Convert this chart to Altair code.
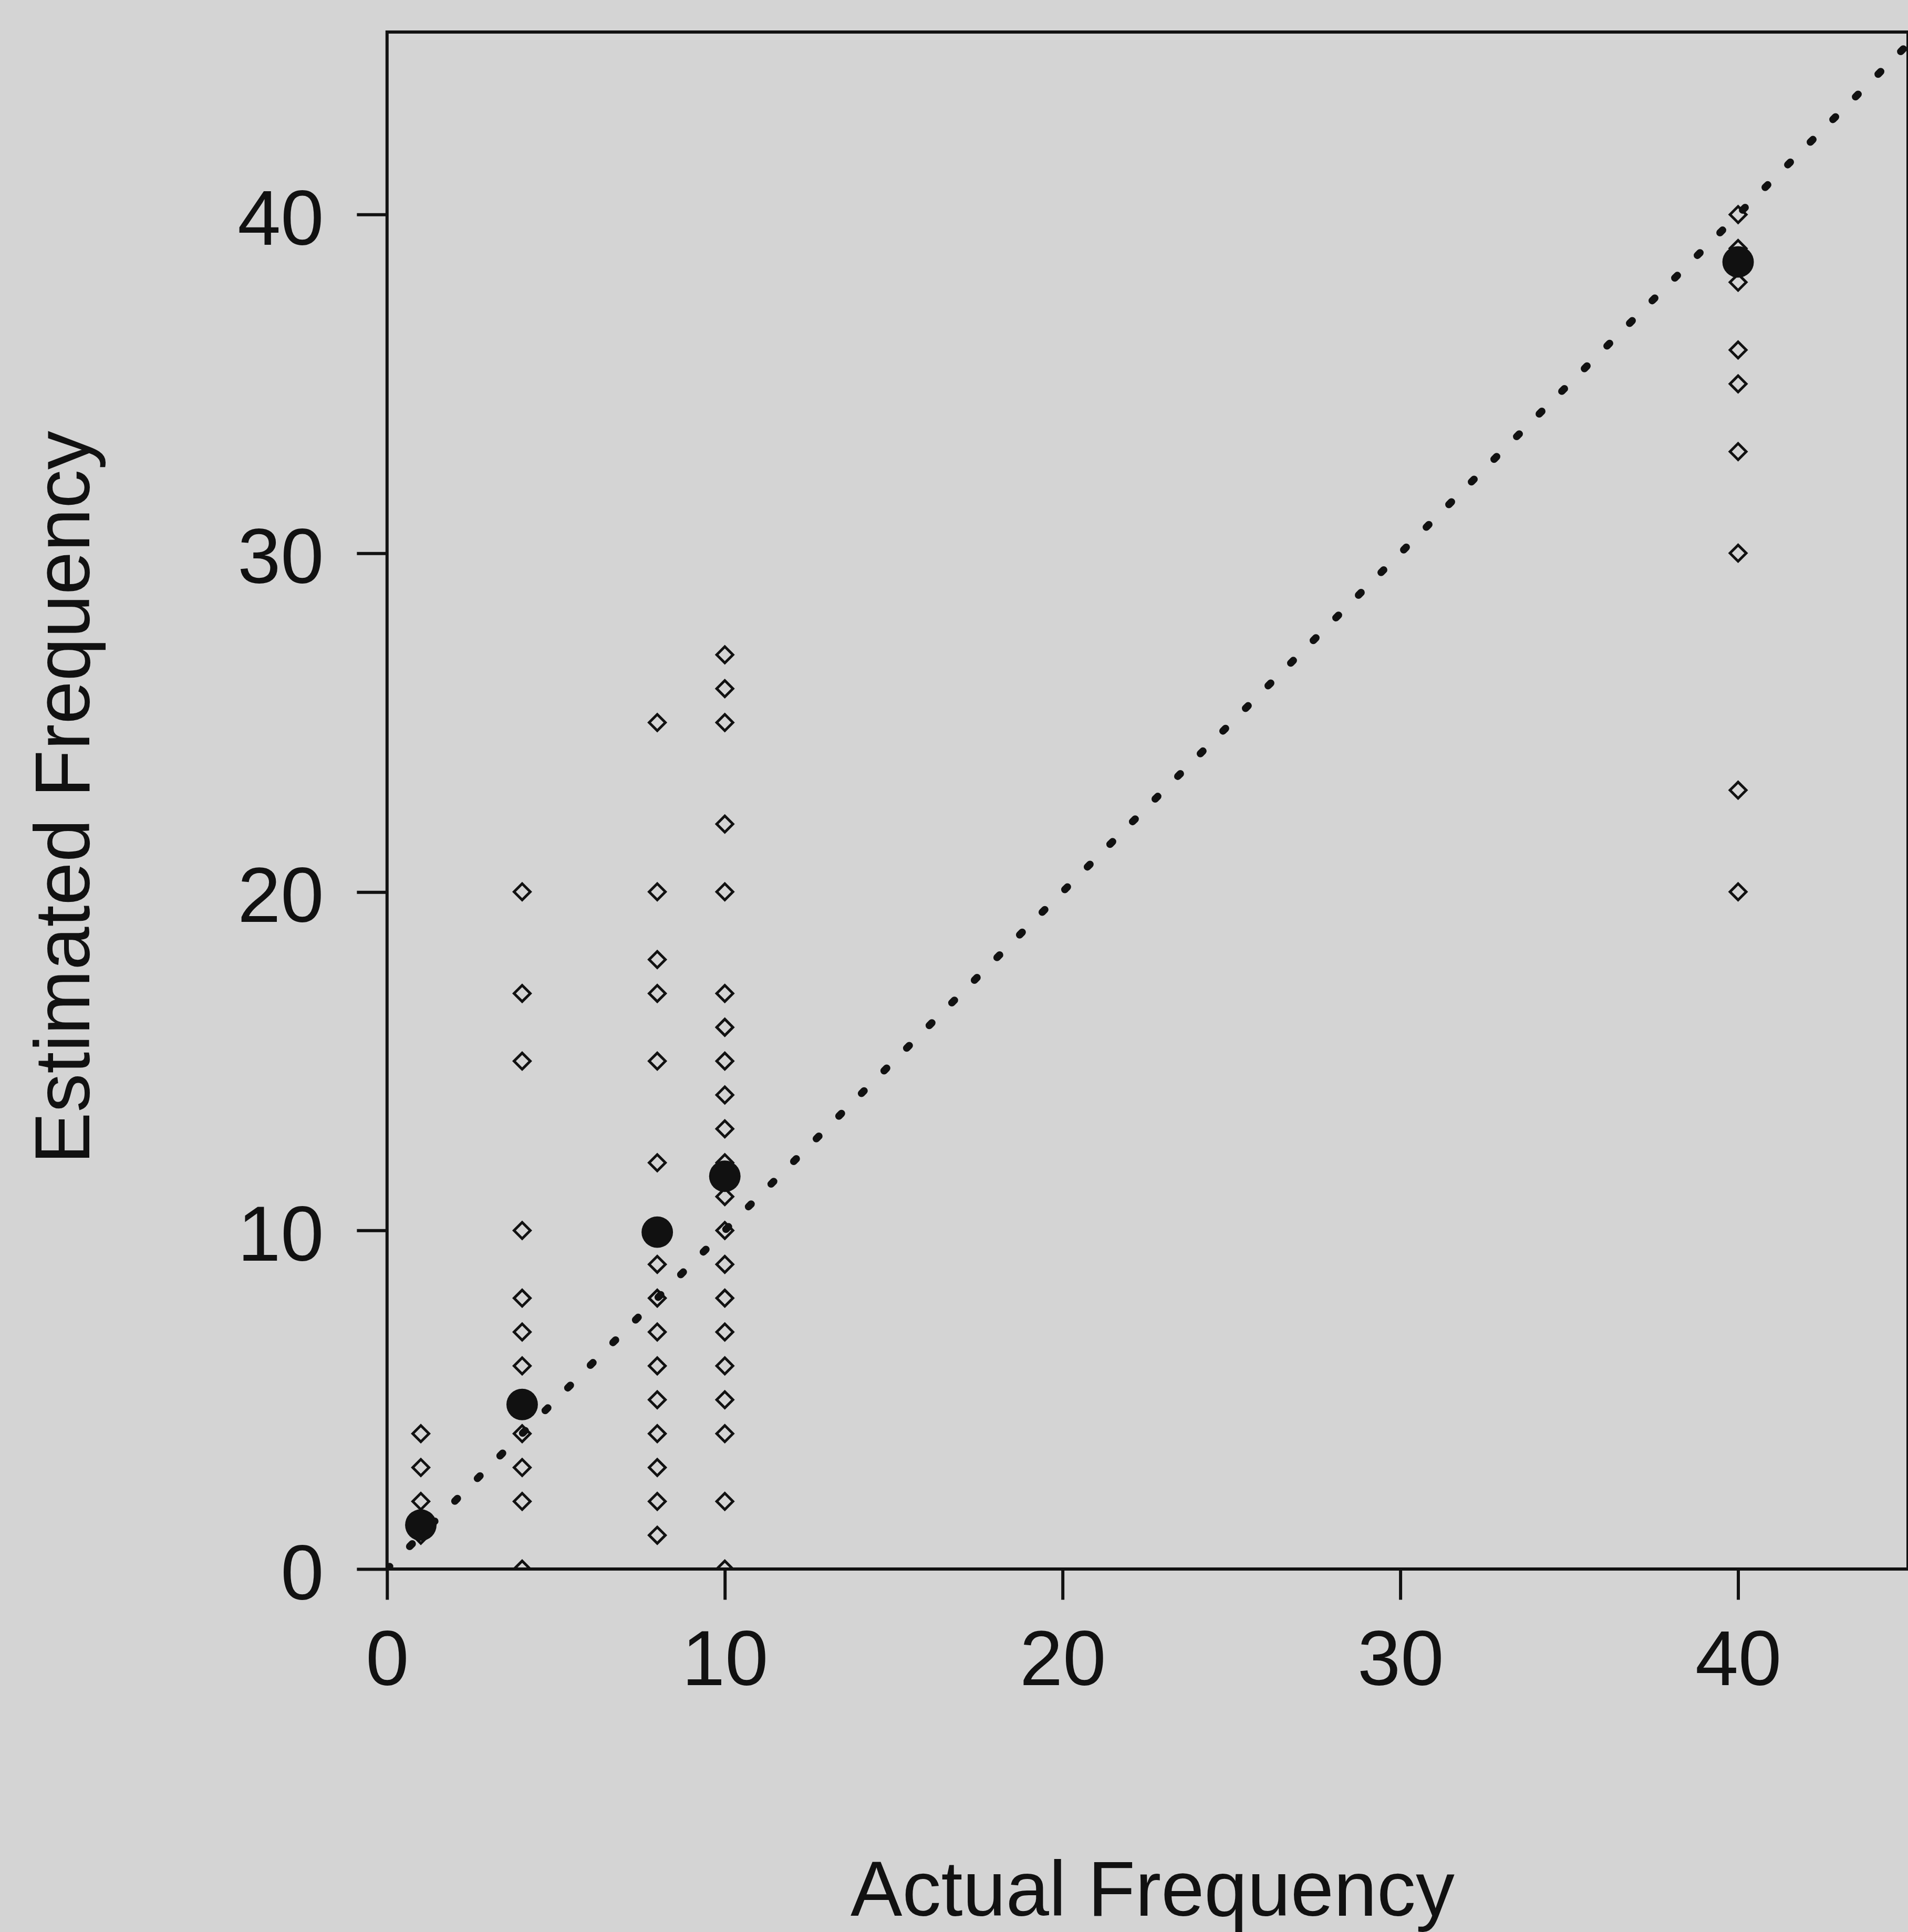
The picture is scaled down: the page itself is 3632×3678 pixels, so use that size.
import altair as alt
import pandas as pd

# ---- data ----
actual_values = [1, 4, 8, 10, 40]
estimates_at_1 = [1, 2, 3, 4]
estimates_at_4 = [0, 2, 3, 4, 5, 6, 7, 8, 10, 15, 17, 20]
estimates_at_8 = [1, 2, 3, 4, 5, 6, 7, 8, 9, 10, 12, 15, 17, 18, 20, 25]
estimates_at_10 = [0, 2, 4, 5, 6, 7, 8, 9, 10, 11, 12, 13, 14, 15, 16, 17, 20, 22, 25, 26, 27]
estimates_at_40 = [20, 23, 30, 33, 35, 36, 38, 39, 40]
mean_estimates = [1.3, 4.86, 9.95, 11.6, 38.6]
identity_x = [0, 46]
identity_y = [0, 46]
x_ticks = [0, 10, 20, 30, 40]
y_ticks = [0, 10, 20, 30, 40]

groups = [estimates_at_1, estimates_at_4, estimates_at_8, estimates_at_10, estimates_at_40]
rows = []
for a, ests in zip(actual_values, groups):
    for e in ests:
        rows.append({"actual": a, "estimated": e})
points = pd.DataFrame(rows)
means = pd.DataFrame({"actual": actual_values, "estimated": mean_estimates})
identity = pd.DataFrame({"actual": identity_x, "estimated": identity_y})

FONT = "Liberation Sans"
FS = 148

x_scale = alt.Scale(domain=[0, 45.03], nice=False, zero=False)
y_scale = alt.Scale(domain=[0, 45.39], nice=False, zero=False)

x_axis = alt.Axis(
    title="Actual Frequency", values=x_ticks, format="d", grid=False, domain=False,
    ticks=True, tickSize=58, tickWidth=6, tickColor="#111",
    labelFont=FONT, labelFontSize=FS, labelColor="#111", labelLimit=2000,
    labelBaseline="alphabetic", labelPadding=163, labelFlush=False,
    labelOverlap=False,
    titleFont=FONT, titleFontSize=FS, titleFontWeight="normal", titleColor="#111",
    titleBaseline="alphabetic", titleAlign="center", titleX=1459, titleY=660,
    titleLimit=4000,
)
y_axis = alt.Axis(
    title="Estimated Frequency", values=y_ticks, format="d", grid=False, domain=False,
    ticks=True, tickSize=58, tickWidth=6, tickColor="#111",
    labelFont=FONT, labelFontSize=FS, labelColor="#111", labelLimit=2000,
    labelBaseline="alphabetic", labelOffset=57, labelPadding=63, labelFlush=False,
    labelOverlap=False,
    titleFont=FONT, titleFontSize=FS, titleFontWeight="normal", titleColor="#111",
    titleAngle=270, titleBaseline="alphabetic", titleAlign="center",
    titleX=-568, titleY=1459, titleLimit=4000,
)

base_x = alt.X("actual:Q", scale=x_scale, axis=x_axis)
base_y = alt.Y("estimated:Q", scale=y_scale, axis=y_axis)

diamonds = alt.Chart(points).mark_point(
    shape="diamond", size=961, filled=False, stroke="#111", strokeWidth=5,
    opacity=1, clip=True,
).encode(x=base_x, y=base_y)

line = alt.Chart(identity).mark_line(
    color="#111", strokeWidth=14, strokeDash=[7, 54], strokeCap="round", clip=True,
).encode(x=alt.X("actual:Q", scale=x_scale), y=alt.Y("estimated:Q", scale=y_scale))

filled = alt.Chart(means).mark_point(
    shape="circle", size=3600, filled=True, color="#111", opacity=1, clip=True,
).encode(x=alt.X("actual:Q", scale=x_scale), y=alt.Y("estimated:Q", scale=y_scale))

chart = (
    alt.layer(diamonds, line, filled)
    .properties(
        width=2900, height=2931,
        autosize=alt.AutoSizeParams(type="none"),
        padding={"left": 738, "top": 58, "right": 0, "bottom": 689},
        background="#d4d4d4",
    )
    .configure_view(stroke="#111", strokeWidth=6, fill="#d4d4d4")
)

chart.save("out.html", embed_options={"renderer": "svg", "actions": False})
